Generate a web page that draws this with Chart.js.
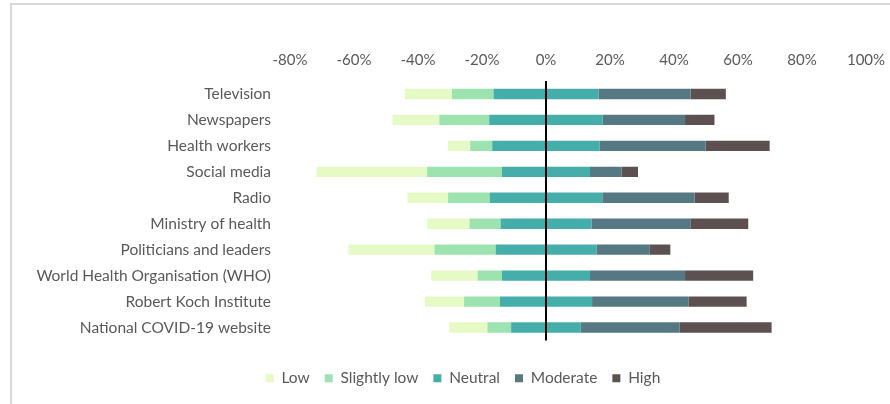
<!DOCTYPE html>
<html>
<head>
<meta charset="utf-8">
<script src="https://cdn.jsdelivr.net/npm/chart.js@4.4.1/dist/chart.umd.min.js"></script>
<style>
  html, body { margin: 0; padding: 0; background: #fff; }
  #wrap { position: relative; width: 890px; height: 404px; overflow: hidden; }
  #frame {
    position: absolute; left: 10px; top: 3px; width: 1000px; height: 500px;
    border-left: 2px solid #d9d9d9; border-top: 2px solid #d9d9d9;
    pointer-events: none;
  }
  #chart { position: absolute; left: 0; top: 0; }
</style>
</head>
<body>
<div id="wrap">
  <div id="frame"></div>
  <canvas id="chart" width="890" height="404"></canvas>
</div>
<script>
// Trust in information sources, share of respondents (%)
const sources = [
  'Television', 'Newspapers', 'Health workers', 'Social media', 'Radio',
  'Ministry of health', 'Politicians and leaders', 'World Health Organisation (WHO)',
  'Robert Koch Institute', 'National COVID-19 website'
];
const low         = [14.7, 14.6,  6.9, 34.5, 12.7, 13.2, 26.9, 14.5, 12.2, 11.9];
const slightlyLow = [13.0, 15.6,  6.9, 23.4, 13.0,  9.7, 19.1,  7.6, 11.2,  7.4];
const neutral     = [32.8, 35.5, 33.6, 27.5, 35.2, 28.4, 31.5, 27.5, 28.8, 21.8];
const moderate    = [28.8, 25.7, 33.1,  9.9, 28.8, 30.9, 16.7, 29.7, 30.1, 30.8];
const high        = [11.0,  9.2, 20.0,  5.1, 10.7, 18.1,  6.4, 21.3, 18.2, 28.8];
const xTicks = [-80, -60, -40, -20, 0, 20, 40, 60, 80, 100];

const colors = {
  low: '#e5fac4',
  slightlyLow: '#9ce3af',
  neutral: '#46aeaa',
  moderate: '#557882',
  high: '#5c5150'
};
const textColor = '#595959';
const fontFamily = 'Lato, "Open Sans", sans-serif';

// neutral is split around zero; negative side stacks outward from the centre
function bar(label, data, color) {
  return {
    label: label,
    data: data,
    backgroundColor: color,
    borderWidth: 0,
    xAxisID: 'x',
    yAxisID: 'y',
    barPercentage: 0.4,
    categoryPercentage: 1.0
  };
}
const datasets = [
  bar('Neutral', neutral.map(v => -v / 2), colors.neutral),
  bar('Slightly low', slightlyLow.map(v => -v), colors.slightlyLow),
  bar('Low', low.map(v => -v), colors.low),
  bar('Neutral', neutral.map(v => v / 2), colors.neutral),
  bar('Moderate', moderate, colors.moderate),
  bar('High', high, colors.high)
];
// legend order: Low, Slightly low, Neutral, Moderate, High
const legendRank = [2, 1, 0, 5, 3, 4];

new Chart(document.getElementById('chart'), {
  type: 'bar',
  data: { labels: sources, datasets: datasets },
  options: {
    indexAxis: 'y',
    responsive: false,
    animation: false,
    layout: { padding: { left: 36, right: 0, top: 0, bottom: 8 } },
    scales: {
      x: {
        position: 'top',
        stacked: true,
        min: -80,
        max: 100,
        afterBuildTicks: scale => { scale.ticks = xTicks.map(v => ({ value: v })); },
        afterFit: scale => {
          scale.height = 81;
          // let the 100% label hang over the right spacer instead of shrinking the plot
          scale.paddingRight = 0;
        },
        border: { display: false },
        grid: {
          drawTicks: false,
          lineWidth: 2,
          color: ctx => (ctx.tick && ctx.tick.value === 0) ? '#000' : 'rgba(0,0,0,0)'
        },
        ticks: {
          padding: 12,
          color: textColor,
          font: { family: fontFamily, size: 15 },
          callback: v => v + '%'
        }
      },
      y: {
        stacked: true,
        afterFit: scale => { scale.width = 254; },
        border: { display: false },
        grid: { display: false, drawTicks: false },
        ticks: {
          padding: 19,
          color: textColor,
          font: { family: fontFamily, size: 15.5 }
        }
      },
      // spacers that keep the plot area clear of the right edge and the legend
      y2: {
        type: 'linear',
        position: 'right',
        afterFit: scale => { scale.width = 24; },
        border: { display: false },
        grid: { display: false, drawTicks: false },
        ticks: { display: false }
      },
      x2: {
        type: 'linear',
        position: 'bottom',
        afterFit: scale => { scale.height = 15; },
        border: { display: false },
        grid: { display: false, drawTicks: false },
        ticks: { display: false }
      }
    },
    plugins: {
      tooltip: { enabled: false },
      legend: {
        position: 'bottom',
        labels: {
          boxWidth: 8,
          boxHeight: 8,
          padding: 15,
          color: textColor,
          font: { family: fontFamily, size: 15.5 },
          filter: item => item.datasetIndex !== 3,
          sort: (a, b) => legendRank[a.datasetIndex] - legendRank[b.datasetIndex]
        }
      }
    }
  }
});
</script>
</body>
</html>
